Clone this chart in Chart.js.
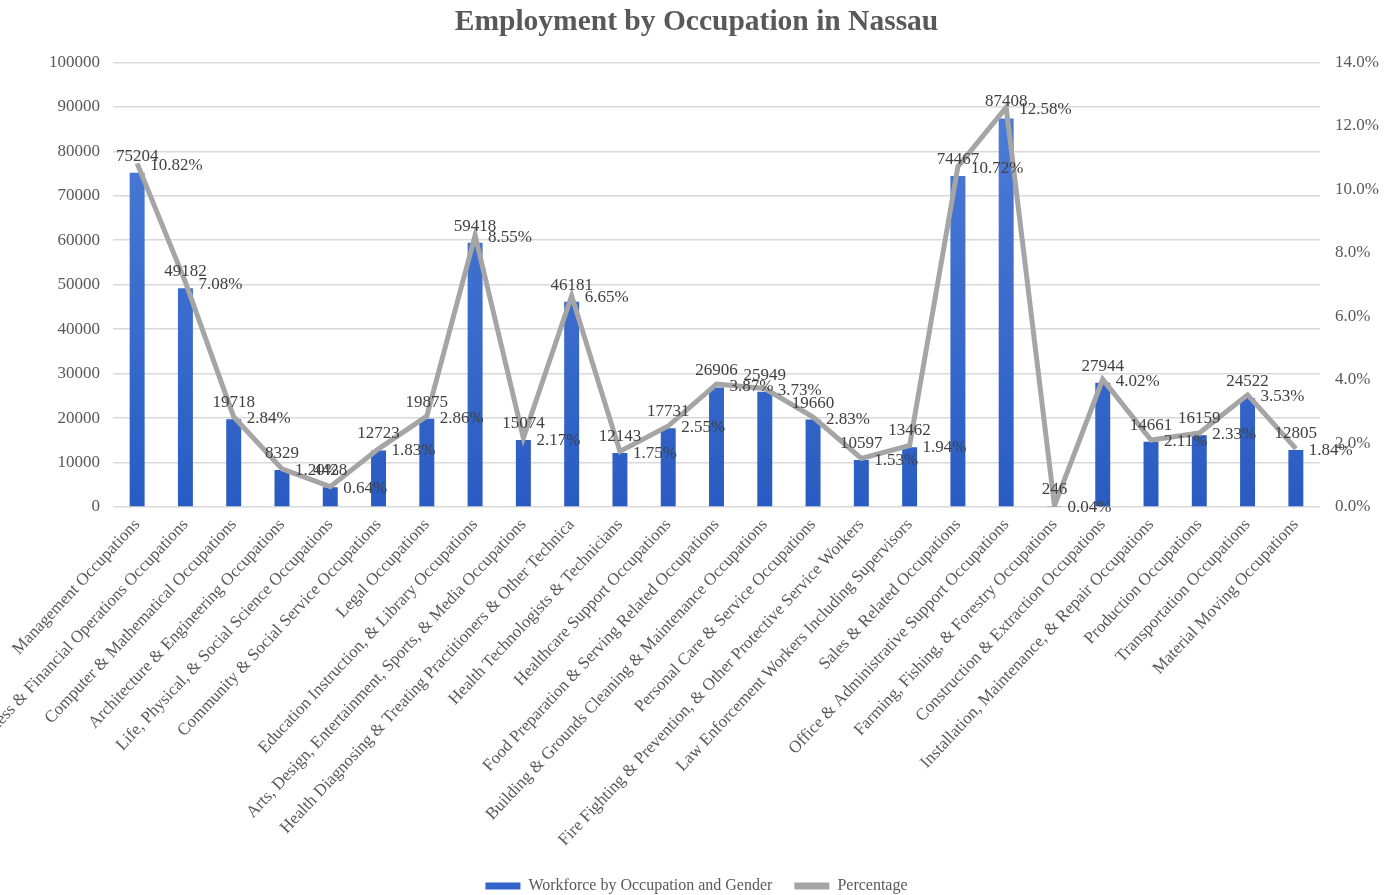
<!DOCTYPE html>
<html>
<head>
<meta charset="utf-8">
<title>Employment by Occupation in Nassau</title>
<script src="https://cdn.jsdelivr.net/npm/chart.js@4.4.1/dist/chart.umd.min.js"></script>
<style>
  body { margin: 0; background: #fff; }
  #wrap { width: 1393px; height: 895px; position: relative; }
</style>
</head>
<body>
<div id="wrap"><canvas id="myChart"></canvas></div>
<script>
const occupations = [
  'Management Occupations',
  'Business & Financial Operations Occupations',
  'Computer & Mathematical Occupations',
  'Architecture & Engineering Occupations',
  'Life, Physical, & Social Science Occupations',
  'Community & Social Service Occupations',
  'Legal Occupations',
  'Education Instruction, & Library Occupations',
  'Arts, Design, Entertainment, Sports, & Media Occupations',
  'Health Diagnosing & Treating Practitioners & Other Technica',
  'Health Technologists & Technicians',
  'Healthcare Support Occupations',
  'Food Preparation & Serving Related Occupations',
  'Building & Grounds Cleaning & Maintenance Occupations',
  'Personal Care & Service Occupations',
  'Fire Fighting & Prevention, & Other Protective Service Workers',
  'Law Enforcement Workers Including Supervisors',
  'Sales & Related Occupations',
  'Office & Administrative Support Occupations',
  'Farming, Fishing, & Forestry Occupations',
  'Construction & Extraction Occupations',
  'Installation, Maintenance, & Repair Occupations',
  'Production Occupations',
  'Transportation Occupations',
  'Material Moving Occupations'
];

const workforce = [75204, 49182, 19718, 8329, 4428, 12723, 19875, 59418, 15074, 46181,
  12143, 17731, 26906, 25949, 19660, 10597, 13462, 74467, 87408, 246,
  27944, 14661, 16159, 24522, 12805];

const percentage = [10.82, 7.08, 2.84, 1.20, 0.64, 1.83, 2.86, 8.55, 2.17, 6.65,
  1.75, 2.55, 3.87, 3.73, 2.83, 1.53, 1.94, 10.72, 12.58, 0.04,
  4.02, 2.11, 2.33, 3.53, 1.84];

const leftTicks = [0, 10000, 20000, 30000, 40000, 50000, 60000, 70000, 80000, 90000, 100000];
const rightTicks = [0, 2, 4, 6, 8, 10, 12, 14];

const serif = "'Liberation Serif', 'Times New Roman', serif";
const barBlue = '#3366cc';
const lineGray = '#a5a5a5';

function barGradient(context) {
  const area = context.chart.chartArea;
  if (!area) return barBlue;
  const g = context.chart.ctx.createLinearGradient(0, area.top, 0, area.bottom);
  g.addColorStop(0, '#4f80da');
  g.addColorStop(1, '#2a5bc2');
  return g;
}

// value labels: workforce above bar, percentage right of the line point
const valueLabels = {
  id: 'valueLabels',
  afterDatasetsDraw(chart) {
    const c = chart.ctx;
    const bars = chart.getDatasetMeta(0).data;
    const pts = chart.getDatasetMeta(1).data;
    c.save();
    c.font = '17px ' + serif;
    c.fillStyle = '#404040';
    bars.forEach((b, i) => {
      c.textAlign = 'center';
      c.textBaseline = 'alphabetic';
      c.fillText(String(workforce[i]), b.x, b.y - 12);
    });
    pts.forEach((p, i) => {
      c.textAlign = 'left';
      c.textBaseline = 'middle';
      c.fillText(percentage[i].toFixed(2) + '%', p.x + 13, p.y + 2);
    });
    c.restore();
  }
};

const ctx = document.getElementById('myChart');

const myChart = new Chart(ctx, {
  type: 'bar',
  data: {
    labels: occupations,
    datasets: [{
      label: 'Workforce by Occupation and Gender',
      data: workforce,
      backgroundColor: barGradient,
      barPercentage: 0.31,
      categoryPercentage: 1,
      yAxisID: 'y',
      order: 1
    },
    {
      type: 'line',
      label: 'Percentage',
      data: percentage,
      borderColor: lineGray,
      backgroundColor: lineGray,
      borderWidth: 5,
      pointRadius: 0,
      tension: 0,
      yAxisID: 'y1',
      order: 0
    }]
  },
  options: {
    responsive: true,
    maintainAspectRatio: false,
    animation: false,
    layout: { padding: { bottom: -9 } },
    plugins: {
      title: {
        display: true,
        text: 'Employment by Occupation in Nassau',
        color: '#595959',
        font: { family: serif, size: 29.5, weight: 'bold' },
        padding: { top: 5, bottom: 22 }
      },
      legend: {
        display: true,
        position: 'bottom',
        labels: {
          color: '#595959',
          font: { family: serif, size: 16 },
          boxWidth: 35,
          boxHeight: 7,
          padding: 22,
          sort: (a, b) => a.datasetIndex - b.datasetIndex,
          generateLabels(chart) {
            const items = Chart.defaults.plugins.legend.labels.generateLabels(chart);
            items.forEach(it => {
              if (it.datasetIndex === 0) it.fillStyle = barBlue;
              it.lineWidth = 0;
              it.strokeStyle = it.fillStyle;
            });
            return items;
          }
        }
      },
      tooltip: { enabled: false }
    },
    scales: {
      x: {
        grid: { display: false },
        border: { display: false },
        afterFit(axis) { axis.height = 349; },
        ticks: {
          color: '#595959',
          font: { family: serif, size: 17 },
          minRotation: 47,
          maxRotation: 47,
          autoSkip: false,
          padding: 0
        }
      },
      y: {
        type: 'linear',
        position: 'left',
        min: 0,
        max: 100000,
        afterBuildTicks(axis) { axis.ticks = leftTicks.map(v => ({ value: v })); },
        afterFit(axis) { axis.width = 113; },
        grid: { color: '#d9d9d9', lineWidth: 1.5, drawTicks: false },
        border: { display: false },
        ticks: {
          color: '#595959',
          font: { family: serif, size: 17 },
          padding: 13,
          callback: v => String(v)
        }
      },
      y1: {
        type: 'linear',
        position: 'right',
        min: 0,
        max: 14,
        afterBuildTicks(axis) { axis.ticks = rightTicks.map(v => ({ value: v })); },
        afterFit(axis) { axis.width = 73; },
        grid: { display: false, drawTicks: false },
        border: { display: false },
        ticks: {
          color: '#595959',
          font: { family: serif, size: 17 },
          padding: 15,
          callback: v => v.toFixed(1) + '%'
        }
      }
    }
  },
  plugins: [valueLabels]
});
</script>
</body>
</html>
